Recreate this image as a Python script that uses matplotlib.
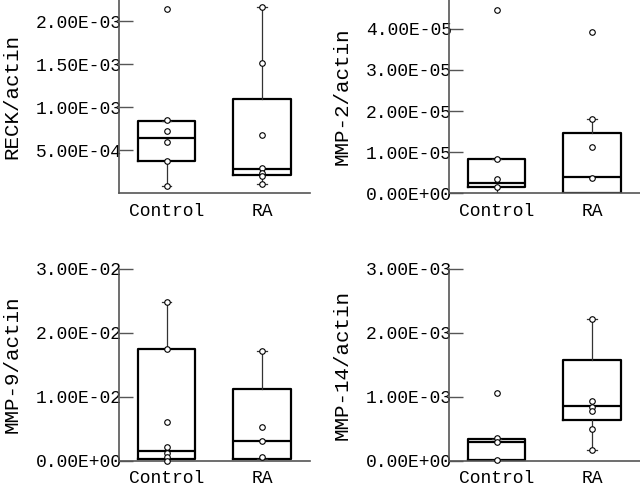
import matplotlib
matplotlib.use('Agg')
import matplotlib.pyplot as plt
import matplotlib.ticker as mticker

plt.rcParams['font.family'] = ['Liberation Mono', 'DejaVu Sans Mono']

groups = ['Control', 'RA']

# RECK/actin
reck_points = [[2.14e-3, 0.852e-3, 0.724e-3, 0.593e-3, 0.376e-3, 0.088e-3],
               [2.163e-3, 1.507e-3, 0.674e-3, 0.294e-3, 0.233e-3, 0.201e-3, 0.105e-3]]
reck_q1 = [0.376e-3, 0.216e-3]
reck_med = [0.647e-3, 0.286e-3]
reck_q3 = [0.845e-3, 1.093e-3]
reck_lo = [0.088e-3, 0.105e-3]
reck_hi = [0.845e-3, 2.163e-3]

# MMP-2/actin
mmp2_points = [[4.45e-5, 0.84e-5, 0.36e-5, 0.16e-5],
               [3.92e-5, 1.80e-5, 1.13e-5, 0.37e-5]]
mmp2_q1 = [0.15e-5, 0.0]
mmp2_med = [0.26e-5, 0.39e-5]
mmp2_q3 = [0.84e-5, 1.47e-5]
mmp2_lo = [0.0, 0.0]
mmp2_hi = [0.84e-5, 1.80e-5]

# MMP-9/actin
mmp9_points = [[2.477e-2, 1.745e-2, 0.598e-2, 0.218e-2, 0.115e-2, 0.062e-2, 0.0],
               [1.71e-2, 0.53e-2, 0.307e-2, 0.062e-2]]
mmp9_q1 = [0.031e-2, 0.031e-2]
mmp9_med = [0.156e-2, 0.307e-2]
mmp9_q3 = [1.745e-2, 1.112e-2]
mmp9_lo = [0.0, 0.031e-2]
mmp9_hi = [2.477e-2, 1.71e-2]

# MMP-14/actin
mmp14_points = [[1.06e-3, 0.35e-3, 0.29e-3, 0.01e-3],
                [2.21e-3, 0.94e-3, 0.84e-3, 0.78e-3, 0.50e-3, 0.16e-3]]
mmp14_q1 = [0.01e-3, 0.636e-3]
mmp14_med = [0.297e-3, 0.85e-3]
mmp14_q3 = [0.344e-3, 1.57e-3]
mmp14_lo = [0.01e-3, 0.16e-3]
mmp14_hi = [0.344e-3, 2.21e-3]

panels = [
    ('RECK/actin', reck_points, reck_q1, reck_med, reck_q3, reck_lo, reck_hi,
     [5e-4, 1e-3, 1.5e-3, 2e-3], 2.244e-3, [0.186, 0.6006, 0.298, 0.3994]),
    ('MMP-2/actin', mmp2_points, mmp2_q1, mmp2_med, mmp2_q3, mmp2_lo, mmp2_hi,
     [0, 1e-5, 2e-5, 3e-5, 4e-5], 4.70e-5, [0.7016, 0.6006, 0.298, 0.3994]),
    ('MMP-9/actin', mmp9_points, mmp9_q1, mmp9_med, mmp9_q3, mmp9_lo, mmp9_hi,
     [0, 1e-2, 2e-2, 3e-2], 3.0e-2, [0.186, 0.0481, 0.298, 0.397]),
    ('MMP-14/actin', mmp14_points, mmp14_q1, mmp14_med, mmp14_q3, mmp14_lo, mmp14_hi,
     [0, 1e-3, 2e-3, 3e-3], 3.0e-3, [0.7016, 0.0481, 0.298, 0.397]),
]

fig = plt.figure(figsize=(6.4, 4.84), dpi=100)

for label, pts, q1, med, q3, lo, hi, yticks, ytop, rect in panels:
    ax = fig.add_axes(rect)
    stats = []
    for i in range(2):
        stats.append({'q1': q1[i], 'med': med[i], 'q3': q3[i],
                      'whislo': lo[i], 'whishi': hi[i], 'fliers': []})
    ax.bxp(stats, positions=[1, 2], widths=0.6, capwidths=0.1,
           showfliers=False,
           boxprops=dict(color='black', linewidth=1.6),
           medianprops=dict(color='black', linewidth=1.6),
           whiskerprops=dict(color='#333333', linewidth=0.9),
           capprops=dict(color='#333333', linewidth=0.9))
    for i in range(2):
        ax.plot([i + 1] * len(pts[i]), pts[i], 'o', ms=4, mfc='white',
                mec='black', mew=0.8, clip_on=False, zorder=5)
    ax.set_xlim(0.5, 2.5)
    ax.set_ylim(0, ytop)
    ax.set_yticks(yticks)
    ax.yaxis.set_major_formatter(mticker.FormatStrFormatter('%.2E'))
    ax.set_xticks([1, 2])
    ax.set_xticklabels(groups)
    for s in ['top', 'right']:
        ax.spines[s].set_visible(False)
    for s in ['left', 'bottom']:
        ax.spines[s].set_color('#555555')
        ax.spines[s].set_linewidth(1.2)
    ax.tick_params(axis='y', direction='in', length=10, width=1, color='#555555',
                   pad=-2, labelsize=13)
    ax.tick_params(axis='x', length=0, pad=7, labelsize=13)
    ax.set_ylabel(label, fontsize=15)
    ax.yaxis.set_label_coords(-98 / 191, 0.5)

fig.savefig('out.png', dpi=100)
